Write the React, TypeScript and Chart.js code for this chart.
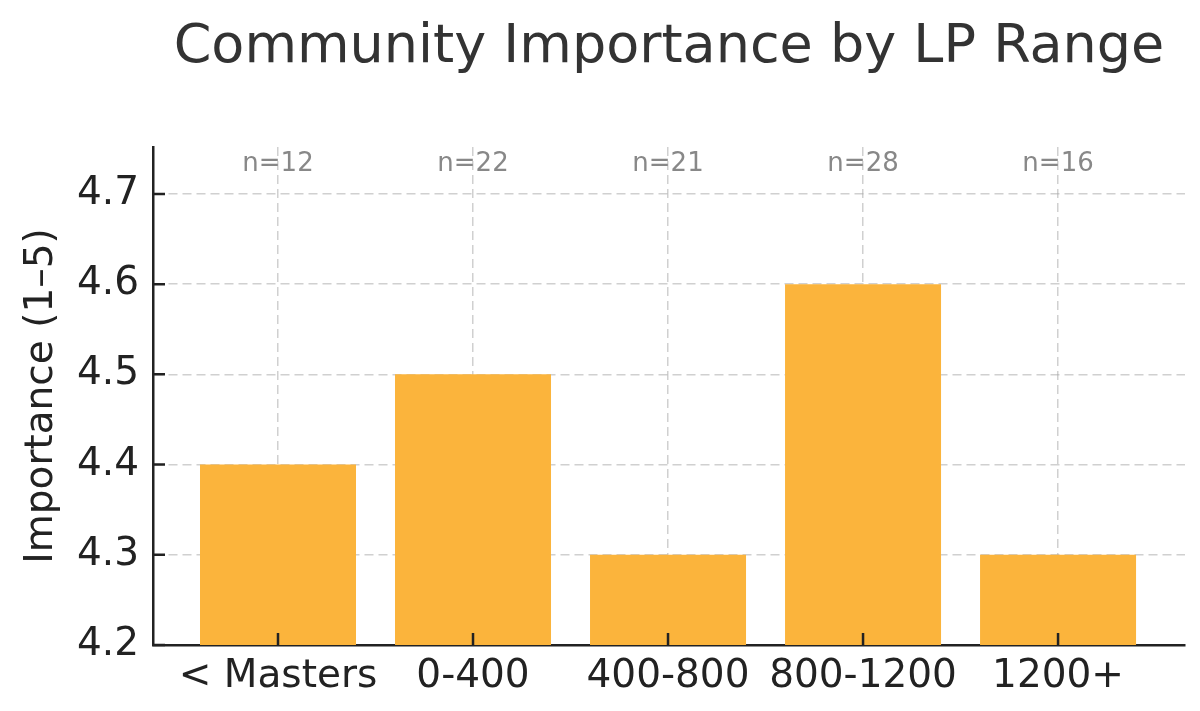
import { useEffect, useRef } from 'react';
import Chart from 'chart.js/auto';

const categories = ['< Masters', '0-400', '400-800', '800-1200', '1200+'];
const importance = [4.4, 4.5, 4.3, 4.6, 4.3];
const sampleSizes = [12, 22, 21, 28, 16];
const yTicks = [4.2, 4.3, 4.4, 4.5, 4.6, 4.7];
const nLabelLevel = 4.733;

const FONT = "'DejaVu Sans', sans-serif";
const INK = '#222222';

const App = () => {
    const canvas = useRef<HTMLCanvasElement>(null);

    useEffect(() => {
        // n= labels above each category, under the grid
        const sampleLabels = {
            id: 'sampleLabels',
            afterDatasetsDraw(chart: any) {
                const { ctx, scales: { x, y } } = chart;
                ctx.save();
                ctx.font = `26px ${FONT}`;
                ctx.fillStyle = '#888888';
                ctx.textAlign = 'center';
                ctx.textBaseline = 'middle';
                sampleSizes.forEach((n, i) => {
                    ctx.fillText('n=' + n, x.getPixelForValue(i), y.getPixelForValue(nLabelLevel));
                });
                ctx.restore();
            }
        };

        // matplotlib-style inward tick marks
        const innerTicks = {
            id: 'innerTicks',
            afterDraw(chart: any) {
                const { ctx, chartArea, scales: { x, y } } = chart;
                ctx.save();
                ctx.strokeStyle = INK;
                ctx.lineWidth = 2.5;
                ctx.beginPath();
                x.ticks.forEach((t: any) => {
                    const px = x.getPixelForValue(t.value);
                    ctx.moveTo(px, chartArea.bottom);
                    ctx.lineTo(px, chartArea.bottom - 12);
                });
                y.ticks.forEach((t: any) => {
                    const py = y.getPixelForValue(t.value);
                    ctx.moveTo(chartArea.left, py);
                    ctx.lineTo(chartArea.left + 12, py);
                });
                ctx.stroke();
                ctx.restore();
            }
        };

        const chart = new Chart(
            // @ts-expect-error next
            canvas.current,
            {
                type: 'bar',
                data: {
                    datasets: [{
                        label: 'Importance',
                        data: importance.map((v, i) => ({ x: i, y: v })),
                        backgroundColor: '#FBB43C',
                        borderWidth: 0,
                        barPercentage: 0.8,
                        categoryPercentage: 1
                    }]
                },
                plugins: [sampleLabels, innerTicks],
                options: {
                    animation: false,
                    responsive: true,
                    maintainAspectRatio: false,
                    layout: {
                        padding: { left: 0, right: 15, top: 0, bottom: 0 }
                    },
                    plugins: {
                        legend: { display: false },
                        tooltip: { enabled: false },
                        title: {
                            display: true,
                            fullSize: false,
                            text: 'Community Importance by LP Range',
                            color: '#333333',
                            font: { family: FONT, size: 54, weight: 'normal' },
                            padding: { top: 16, bottom: 66.2 }
                        }
                    },
                    scales: {
                        x: {
                            type: 'linear',
                            min: -0.641,
                            max: 4.651,
                            offset: false,
                            z: 1,
                            afterBuildTicks: (scale: any) => {
                                scale.ticks = categories.map((_, i) => ({ value: i }));
                            },
                            afterFit: (scale: any) => {
                                scale.height = 66;
                            },
                            grid: {
                                offset: false,
                                drawTicks: false,
                                color: 'rgba(170, 170, 170, 0.55)',
                                lineWidth: 1.5
                            },
                            border: {
                                display: true,
                                color: INK,
                                width: 2.5,
                                dash: [9, 5]
                            },
                            ticks: {
                                autoSkip: false,
                                maxRotation: 0,
                                padding: 8,
                                color: INK,
                                font: { family: FONT, size: 39 },
                                callback: (value: any) => categories[value] ?? ''
                            }
                        },
                        y: {
                            min: 4.2,
                            max: 4.752,
                            z: 1,
                            afterBuildTicks: (scale: any) => {
                                scale.ticks = yTicks.map(v => ({ value: v }));
                            },
                            afterFit: (scale: any) => {
                                scale.width = 153;
                            },
                            grid: {
                                drawTicks: false,
                                color: 'rgba(170, 170, 170, 0.55)',
                                lineWidth: 1.5
                            },
                            border: {
                                display: true,
                                color: INK,
                                width: 2.5,
                                dash: [9, 5]
                            },
                            ticks: {
                                padding: 14,
                                color: INK,
                                font: { family: FONT, size: 39 },
                                callback: (value: any) => Number(value).toFixed(1)
                            },
                            title: {
                                display: true,
                                text: 'Importance (1–5)',
                                color: INK,
                                font: { family: FONT, size: 39 },
                                padding: { top: 18 }
                            }
                        }
                    }
                }
            }
        );

        return () => {
            chart.destroy();
        };
    }, []);

    return (
        <div style={{ position: 'fixed', left: 0, top: 0, width: 1200, height: 711, background: '#ffffff' }}>
            <canvas ref={canvas} aria-label="Community Importance by LP Range" role="img"></canvas>
        </div>
    );
};

export default App;
